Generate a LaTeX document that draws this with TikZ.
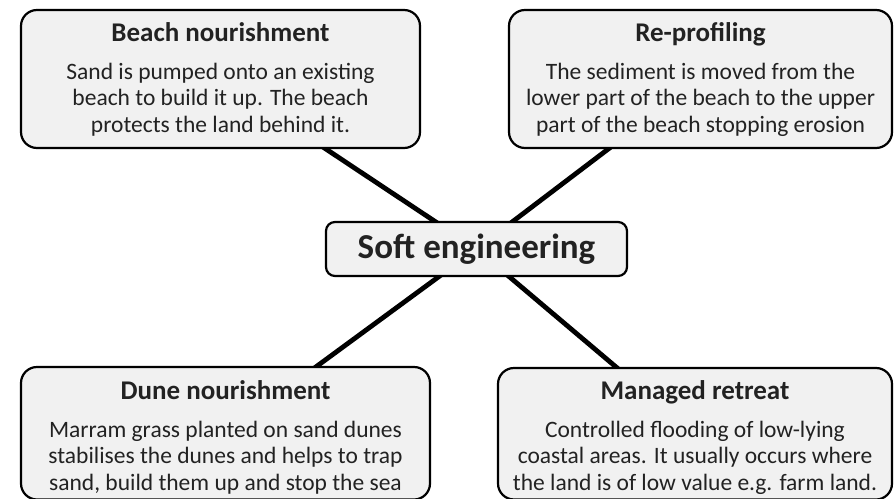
\documentclass[tikz,border=0pt]{standalone}
\usepackage{fontspec}
\setmainfont{Carlito}
\usetikzlibrary{backgrounds}
\definecolor{boxfill}{HTML}{F1F1F1}
\definecolor{txtcol}{HTML}{222222}
\begin{document}
\begin{tikzpicture}[x=1pt,y=-1pt,
  box/.style={draw=black, line width=2.2pt, fill=boxfill, rounded corners=16pt, inner sep=0pt},
  head/.style={text=txtcol, inner sep=0pt, anchor=base, font=\fontsize{27}{31}\selectfont\bfseries},
  txt/.style={text=txtcol, align=center, inner sep=0pt, anchor=north, font=\fontsize{23.5}{26.5}\selectfont},
  link/.style={line width=4.8pt, black}]
\useasboundingbox (0,0) rectangle (894,498);
\node[box, minimum width=399pt, minimum height=138pt] (tl) at (220.5,79) {};
\node[box, minimum width=383pt, minimum height=138pt] (tr) at (700.5,79) {};
\node[box, minimum width=301pt, minimum height=54pt, rounded corners=9pt] (c) at (476.5,249) {};
\node[box, minimum width=409pt, minimum height=132.5pt] (bl) at (225.5,433.25) {};
\node[box, minimum width=394pt, minimum height=131.5pt] (br) at (695,433.75) {};
\begin{pgfonlayer}{background}
\draw[link] (tl.center) -- (c.center);
\draw[link] (tr.center) -- (c.center);
\draw[link] (bl.center) -- (c.center);
\draw[link] (br.center) -- (c.center);
\end{pgfonlayer}
\node[head] (tlh) at (220.5,41) {Beach nourishment};
\node[txt] (tlt) at (220.5,59) {\rule{0pt}{20pt}Sand is pumped onto an existing\\ beach to build it up. The beach\\ protects the land behind it.};
\node[head] (trh) at (700.5,41) {Re-profiling};
\node[txt] (trt) at (700.5,59) {\rule{0pt}{20pt}The sediment is moved from the\\ lower part of the beach to the upper\\ part of the beach stopping erosion};
\node[text=txtcol, inner sep=0pt, font=\fontsize{35}{40}\selectfont\bfseries] (ct) at (c.center) {Soft engineering};
\node[head] (blh) at (225.5,399) {Dune nourishment};
\node[txt] (blt) at (225.5,417) {\rule{0pt}{20pt}Marram grass planted on sand dunes\\ stabilises the dunes and helps to trap\\ sand, build them up and stop the sea};
\node[head] (brh) at (695,399) {Managed retreat};
\node[txt] (brt) at (695,417) {\rule{0pt}{20pt}Controlled flooding of low-lying\\ coastal areas. It usually occurs where\\ the land is of low value e.g. farm land.};
\end{tikzpicture}
\end{document}
